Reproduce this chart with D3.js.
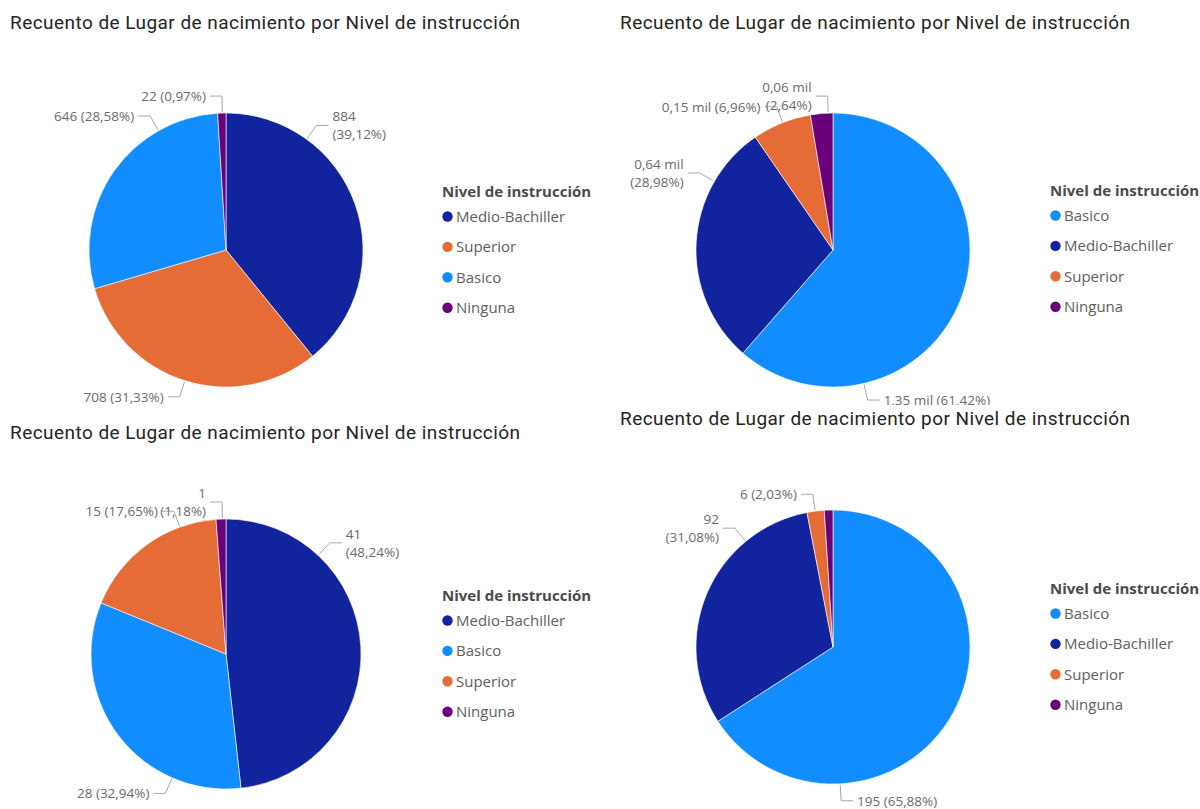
<!DOCTYPE html>
<html>
<head>
<meta charset="utf-8">
<script src="https://cdn.jsdelivr.net/npm/d3@7"></script>
<style>
  body { margin:0; background:#fff; }
  svg { display:block; }
</style>
</head>
<body>
<svg id="chart" width="1200" height="809"></svg>
<script>
// ---- data ----
var titleText = 'Recuento de Lugar de nacimiento por Nivel de instrucción';
var legendTitle = 'Nivel de instrucción';

var names1 = ['Medio-Bachiller','Superior','Basico','Ninguna'];
var values1 = [884, 708, 646, 22];

var names2 = ['Basico','Medio-Bachiller','Superior','Ninguna'];
var values2 = [1350, 637, 153, 58];

var names3 = ['Medio-Bachiller','Basico','Superior','Ninguna'];
var values3 = [41, 28, 15, 1];

var names4 = ['Basico','Medio-Bachiller','Superior','Ninguna'];
var values4 = [195, 92, 6, 3];

var colors = {'Basico':'#118DFF','Medio-Bachiller':'#12239E','Superior':'#E66C37','Ninguna':'#6B007B'};

// label placement (where the leader leaves the pie, degrees clockwise from 12 o'clock)
// null = label hidden by the overlap rule of the original
var leaderAngles1 = [36, 197.5, 330.5, 358.5];
var leaderAngles2 = [167, 300, 338.5, 358];
var leaderAngles3 = [43, 203.5, 340, 358.5];
var leaderAngles4 = [177, 320.5, 352.5, null];
var wrap1 = [true, false, false, false];
var wrap2 = [false, true, false, true];
var wrap3 = [true, false, false, true];
var wrap4 = [false, true, false, false];

var es = d3.formatLocale({decimal:',', thousands:'.', grouping:[3], currency:['','€']});
var fmtPct = es.format('.2%');
var fmtInt = es.format(',d');
var fmtMil = function(v) { return es.format('.2f')(v/1000)+' mil'; };

var svg = d3.select('#chart');
var defs = svg.append('defs');
// the top-right visual is cut by the one below it
defs.append('clipPath').attr('id','clipTR')
    .append('rect').attr('x',600).attr('y',0).attr('width',600).attr('height',405);

var panels = [
    {names:names1, values:values1, angles:leaderAngles1, wrap:wrap1, fmt:fmtInt,
     tx:10, ty:29, cx:226, cy:250, r:137, lx:442, ly:192, clip:null},
    {names:names2, values:values2, angles:leaderAngles2, wrap:wrap2, fmt:fmtMil,
     tx:620, ty:29, cx:833, cy:250, r:137, lx:1050, ly:191, clip:'url(#clipTR)'},
    {names:names3, values:values3, angles:leaderAngles3, wrap:wrap3, fmt:fmtInt,
     tx:10, ty:439, cx:226, cy:654, r:135, lx:442, ly:596, clip:null},
    {names:names4, values:values4, angles:leaderAngles4, wrap:wrap4, fmt:fmtInt,
     tx:620, ty:425, cx:833, cy:647, r:137, lx:1050, ly:589, clip:null}
];

panels.forEach(drawPanel);

function drawPanel(p) {
    var g = svg.append('g');
    if (p.clip) g.attr('clip-path', p.clip);

    g.append('text')
        .attr('x', p.tx).attr('y', p.ty)
        .style('font-family','Roboto, "DejaVu Sans", sans-serif')
        .style('font-size','19px')
        .style('letter-spacing','0.45px')
        .style('fill','#252423')
        .text(titleText);

    var total = d3.sum(p.values);
    var rows = p.names.map(function(n,i) { return {name:n, value:p.values[i], i:i}; });

    var pie = d3.pie().sort(null).value(function(d) { return d.value; });
    var arc = d3.arc().innerRadius(0).outerRadius(p.r);
    var arcs = pie(rows);

    var gp = g.append('g').attr('transform','translate('+p.cx+','+p.cy+')');
    gp.selectAll('path.slice').data(arcs).enter().append('path')
        .attr('class','slice')
        .attr('d', arc)
        .style('fill', function(d) { return colors[d.data.name]; })
        .style('stroke','#fff')
        .style('stroke-width',0.6);

    // labels with elbow leaders
    var L1 = 17, L2 = 12, gap = 4;
    arcs.forEach(function(d) {
        var ang = p.angles[d.data.i];
        if (ang == null) return;
        var a = ang*Math.PI/180;
        var sx = Math.sin(a), sy = -Math.cos(a);
        var x0 = sx*(p.r+1), y0 = sy*(p.r+1);
        var x1 = sx*(p.r+L1), y1 = sy*(p.r+L1);
        var side = sx >= 0 ? 1 : -1;
        var x2 = x1 + side*L2;
        gp.append('path')
            .attr('d', d3.line()([[x0,y0],[x1,y1],[x2,y1]]))
            .style('fill','none').style('stroke','#a8a8a8').style('stroke-width',1);

        var valTxt = p.fmt(d.data.value);
        var pctTxt = '(' + fmtPct(d.data.value/total) + ')';
        var t = gp.append('text')
            .attr('x', x2 + side*gap)
            .style('text-anchor', side > 0 ? 'start' : 'end')
            .style('font-family','"Segoe UI", "Open Sans", sans-serif')
            .style('font-size','13.5px')
            .style('fill','#6b6b6b');
        if (p.wrap[d.data.i]) {
            t.append('tspan').attr('x', x2 + side*gap).attr('y', y1 - 4).text(valTxt);
            t.append('tspan').attr('x', x2 + side*gap).attr('y', y1 + 14).text(pctTxt);
        } else {
            t.attr('y', y1 + 5).text(valTxt + ' ' + pctTxt);
        }
    });

    // legend
    var gl = g.append('g').attr('transform','translate('+p.lx+','+p.ly+')');
    gl.append('text')
        .attr('x',0).attr('y',5)
        .style('font-family','"Segoe UI", "Open Sans", sans-serif')
        .style('font-size','15px')
        .style('font-weight','bold')
        .style('fill','#4a4a4a')
        .text(legendTitle);
    var items = gl.selectAll('g.item').data(p.names).enter().append('g')
        .attr('class','item')
        .attr('transform', function(d,i) { return 'translate(0,'+(24.5+i*30.4)+')'; });
    items.append('circle').attr('cx',5.5).attr('cy',0).attr('r',5.2)
        .style('fill', function(d) { return colors[d]; });
    items.append('text').attr('x',14).attr('y',5.5)
        .style('font-family','"Segoe UI", "Open Sans", sans-serif')
        .style('font-size','15px')
        .style('fill','#605E5C')
        .text(function(d) { return d; });
}
</script>
</body>
</html>
